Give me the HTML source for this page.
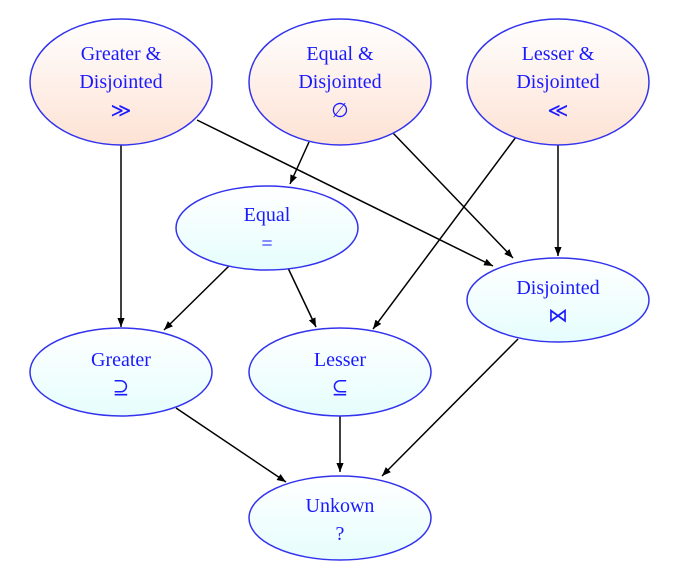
<!DOCTYPE html>
<html><head><meta charset="utf-8"><style>
html,body{margin:0;padding:0;background:#fff;}
svg{display:block;}
text{font-family:"Liberation Serif","DejaVu Serif",serif;font-size:20px;fill:#1a1aff;text-anchor:middle;}
</style></head><body>
<svg width="677" height="573" viewBox="0 0 677 573" xmlns="http://www.w3.org/2000/svg">
<defs>
<linearGradient id="p" x1="0" y1="0" x2="0" y2="1"><stop offset="0" stop-color="#ffffff"/><stop offset="1" stop-color="#fde2d4"/></linearGradient>
<linearGradient id="c" x1="0" y1="0" x2="0" y2="1"><stop offset="0" stop-color="#ffffff"/><stop offset="1" stop-color="#e6fdfd"/></linearGradient>
<marker id="a" viewBox="0 0 10 10" refX="10" refY="5" markerWidth="9" markerHeight="9" markerUnits="userSpaceOnUse" orient="auto"><path d="M0,1 L10,5 L0,9 Z" fill="#000"/></marker>
</defs>
<g stroke="#000" stroke-width="1.5" marker-end="url(#a)">
<line x1="121" y1="145" x2="121" y2="327"/>
<line x1="197" y1="120" x2="493" y2="266"/>
<line x1="309" y1="142" x2="290" y2="184"/>
<line x1="393" y1="133" x2="513" y2="258"/>
<line x1="516" y1="137" x2="373" y2="329"/>
<line x1="558" y1="145" x2="558" y2="256"/>
<line x1="229" y1="266" x2="164" y2="330"/>
<line x1="288" y1="268" x2="316" y2="327"/>
<line x1="176" y1="408" x2="286" y2="482"/>
<line x1="340" y1="416" x2="340" y2="472"/>
<line x1="518" y1="339" x2="382" y2="476"/>
</g>
<g stroke="#3333ee" stroke-width="1.5">
<ellipse cx="121" cy="82" rx="91" ry="63" fill="url(#p)"/>
<ellipse cx="340" cy="82" rx="91" ry="63" fill="url(#p)"/>
<ellipse cx="558" cy="82" rx="91" ry="63" fill="url(#p)"/>
<ellipse cx="267" cy="228" rx="91" ry="42" fill="url(#c)"/>
<ellipse cx="558" cy="300" rx="91" ry="42" fill="url(#c)"/>
<ellipse cx="121" cy="372" rx="91" ry="44" fill="url(#c)"/>
<ellipse cx="340" cy="372" rx="91" ry="44" fill="url(#c)"/>
<ellipse cx="340" cy="518" rx="91" ry="42" fill="url(#c)"/>
</g>
<text x="121" y="60">Greater &amp;</text><text x="121" y="88">Disjointed</text><text x="121" y="117">≫</text>
<text x="340" y="60">Equal &amp;</text><text x="340" y="88">Disjointed</text><text x="340" y="117">∅</text>
<text x="558" y="60">Lesser &amp;</text><text x="558" y="88">Disjointed</text><text x="558" y="117">≪</text>
<text x="267" y="221">Equal</text><text x="267" y="250">=</text>
<text x="558" y="294">Disjointed</text><text x="558" y="322">⋈</text>
<text x="121" y="366">Greater</text><text x="121" y="394">⊇</text>
<text x="340" y="366">Lesser</text><text x="340" y="394">⊆</text>
<text x="340" y="512">Unkown</text><text x="340" y="540">?</text>
</svg>
</body></html>
